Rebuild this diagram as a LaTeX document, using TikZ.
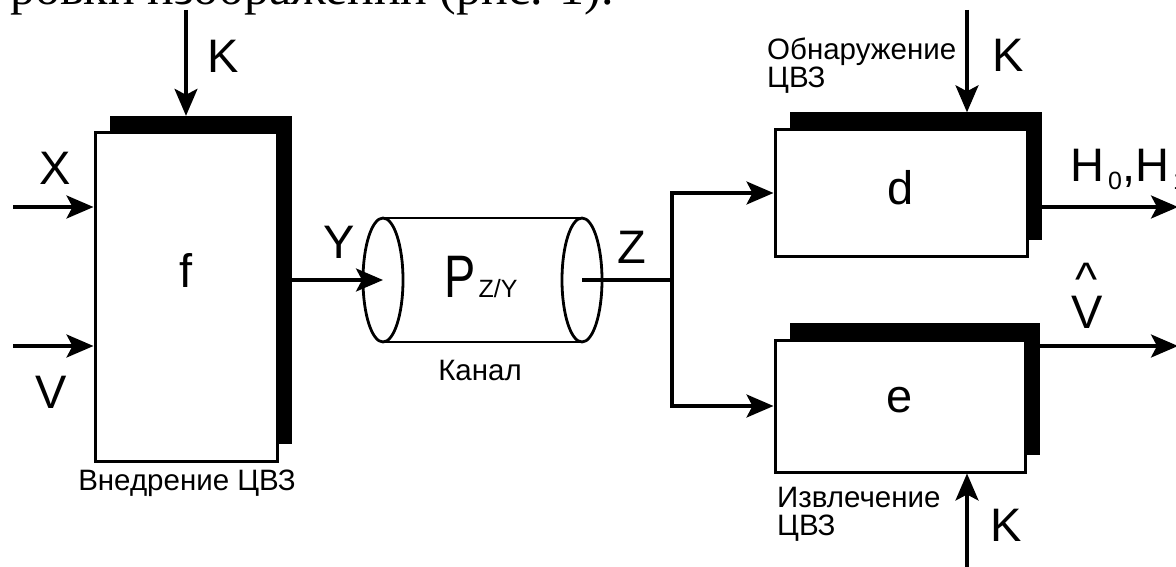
\documentclass[tikz,border=0pt]{standalone}
\usepackage{fontspec}
\setmainfont{Liberation Sans}
\newfontfamily\serifface{Liberation Serif}
\usetikzlibrary{arrows.meta}
\newcommand{\subsz}{\fontsize{25}{25}\selectfont}
\begin{document}
\begin{tikzpicture}[x=1pt,y=-1pt,
  arr/.style={line width=3.2pt,-{Stealth[length=27pt,width=23pt,inset=6pt]}},
  wire/.style={line width=3.2pt},
  thinwire/.style={line width=2.8pt},
  wbox/.style={draw=black,fill=white,line width=3pt,inner sep=0pt,font=\fontsize{47}{47}\selectfont},
  sbox/.style={fill=black,draw=none,inner sep=0pt},
  big/.style={font=\fontsize{47}{47}\selectfont,inner sep=0pt},
  small/.style={font=\fontsize{29.5}{28}\selectfont,inner sep=0pt},
]
\useasboundingbox (0,0) rectangle (1176,567);
\clip (0,0) rectangle (1176,567);

% cropped line of text at the top
\node[anchor=base west,inner sep=0pt,font=\serifface\fontsize{50}{50}\selectfont] (toptext) at (10,5) {ровки изображений (рис. 1).};

% embedding block f
\node[sbox,minimum width=182pt,minimum height=328pt] (fsh) at (201,280) {};
\node[wbox,minimum width=182pt,minimum height=328pt,text height=35pt,text depth=55pt] (f) at (186,297) {f};
\node[small] (fcap) at (187,483) {Внедрение ЦВЗ};

% inputs of f
\coordinate (xin) at (13,207);
\coordinate (vin) at (13,346);
\coordinate (kf) at (186,10);
\draw[arr] (xin) -- (xin -| f.west);
\draw[arr] (vin) -- (vin -| f.west);
\draw[arr] (kf) -- (kf |- fsh.north);
\node[big] (lx) at (55,168) {X};
\node[big] (lv) at (51,392) {V};
\node[big] (lkf) at (223,56) {K};

% channel
\coordinate (chin) at (383,280);
\coordinate (chout) at (582,280);
\draw[thinwire] ([yshift=62pt]chin) -- ([yshift=62pt]chout);
\draw[thinwire] ([yshift=-62pt]chin) -- ([yshift=-62pt]chout);
\draw[thinwire] (chin) ellipse [x radius=20pt,y radius=62pt];
\draw[thinwire] (chout) ellipse [x radius=20pt,y radius=62pt];
\node[inner sep=0pt,anchor=base] (pzy) at (481,297) {\fontsize{60}{60}\selectfont\scalebox{0.78}[1]{P}\kern3pt\subsz Z/Y};
\node[small] (chcap) at (480,370) {Канал};

\draw[arr] (fsh.east) -- (fsh.east -| chin);
\node[big] (ly) at (339,242) {Y};

% branch
\coordinate (br) at (672,280);
\draw[wire] (chout) -- (br);
\node[big] (lz) at (632,247) {Z};

% detection block d
\node[sbox,minimum width=252pt,minimum height=127pt] (dsh) at (916,176) {};
\node[wbox,minimum width=252pt,minimum height=127pt,text depth=12pt] (d) at (901,193) {d};
\node[small,anchor=north west,align=left] (dcap) at (767,38) {Обнаружение\\ЦВЗ};

% extraction block e
\node[sbox,minimum width=250pt,minimum height=132pt] (esh) at (915,389) {};
\node[wbox,minimum width=250pt,minimum height=132pt,text depth=12pt] (e) at (900,406) {e};
\node[small,anchor=north west,align=left] (ecap) at (777,487) {Извлечение\\ЦВЗ};

\draw[arr] (br) |- (d.west);
\draw[arr] (br) |- (e.west);

% keys
\coordinate (kd) at (967,10);
\coordinate (ke) at (967,572);
\draw[arr] (kd) -- (kd |- dsh.north);
\draw[arr] (ke) -- (ke |- e.south);
\node[big] (lkd) at (1008,55) {K};
\node[big] (lke) at (1006,525) {K};

% outputs
\coordinate (hout) at (1178,207);
\coordinate (vout) at (1178,346);
\draw[arr] (hout -| dsh.east) -- (hout);
\draw[arr] (vout -| esh.east) -- (vout);
\node[big,anchor=base west] (lh) at (1070,182) {H\kern4pt\raisebox{-8pt}{\subsz 0},H\kern4pt\raisebox{-8pt}{\subsz 1}};
\node[inner sep=0pt,anchor=north,align=center,font=\fontsize{47}{32}\selectfont] (lvhat) at (1087,263) {\textasciicircum\\V};
\end{tikzpicture}
\end{document}
